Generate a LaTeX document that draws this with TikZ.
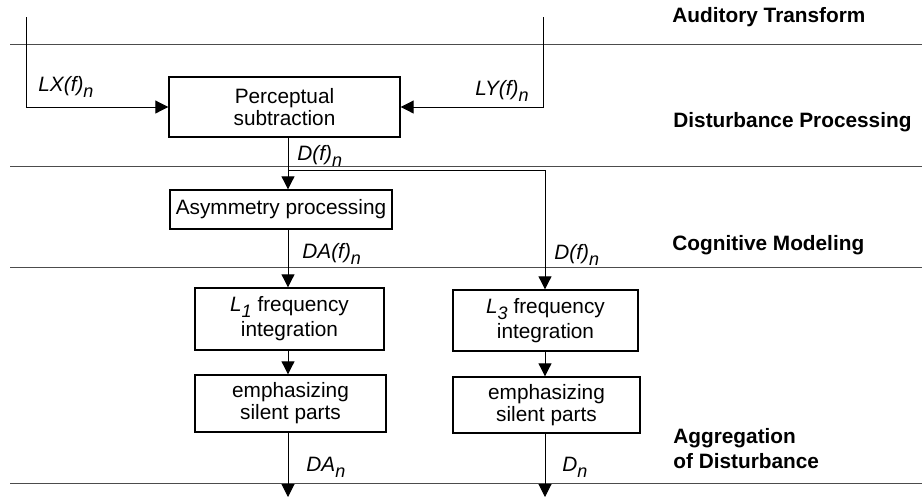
\documentclass[tikz,border=0pt]{standalone}
\usepackage{fontspec}
\setmainfont{Liberation Sans}
\usetikzlibrary{arrows.meta}
\newcommand\myfs{\fontsize{10.4}{11}\selectfont}
\newcommand\mysub[1]{\raisebox{-3pt}{\fontsize{9}{9}\selectfont\itshape #1}}
\begin{document}
\begin{tikzpicture}[x=0.5pt,y=-0.5pt,
  box/.style={draw, line width=0.7pt, inner sep=0pt, align=center, font=\myfs},
  arr/.style={line width=0.5pt, -{Triangle[length=6.5pt,width=6.5pt]}},
  sep/.style={line width=0.5pt, draw=black!70},
  lbl/.style={anchor=base west, inner sep=0pt, font=\myfs\itshape},
  layer/.style={anchor=base west, inner sep=0pt, font=\myfs\bfseries, align=left}]
\useasboundingbox (0,0) rectangle (922,500);
% layer separators
\draw[sep] (10,44) -- (922,44);
\draw[sep] (10,166) -- (922,166);
\draw[sep] (10,267) -- (922,267);
\draw[sep] (10,483) -- (922,483);
% boxes
\node[box, minimum width=115.5pt, minimum height=30pt] (ps) at (284.5,107) {Perceptual\\subtraction};
\node[box, minimum width=111pt, minimum height=19.5pt] (asym) at (281,209.5) {Asymmetry processing};
\node[box, minimum width=94.5pt, minimum height=31pt] (l1) at (289.5,319) {\textit{L}\mysub{1} frequency\\[1.5pt]integration};
\node[box, minimum width=92.5pt, minimum height=30.5pt] (l3) at (545.5,320.5) {\textit{L}\mysub{3} frequency\\[1.5pt]integration};
\node[box, minimum width=95.5pt, minimum height=28.5pt] (e1) at (290.5,403.5) {emphasizing\\silent parts};
\node[box, minimum width=93.5pt, minimum height=28pt] (e3) at (546.5,405) {emphasizing\\silent parts};
% connectors
\coordinate (lxs) at (26,17);
\coordinate (lys) at (543,17);
\coordinate (c1) at (288,0);
\coordinate (c3) at (545,0);
\coordinate (br) at (288,170);
\coordinate (o1) at (288,497);
\coordinate (o3) at (545,497);
\draw[arr] (lxs) |- (ps.west);
\draw[arr] (lys) |- (ps.east);
\draw[arr] (ps.south -| c1) -- (asym.north -| c1);
\draw[arr] (br) -| (l3.north -| c3);
\draw[arr] (asym.south -| c1) -- (l1.north -| c1);
\draw[arr] (l1.south -| c1) -- (e1.north -| c1);
\draw[arr] (l3.south -| c3) -- (e3.north -| c3);
\draw[arr] (e1.south -| c1) -- (o1);
\draw[arr] (e3.south -| c3) -- (o3);
% signal labels
\node[lbl] (tlx) at (38,91) {LX(f)\mysub{n}};
\node[lbl] (tly) at (475,95) {LY(f)\mysub{n}};
\node[lbl] (td1) at (297,160) {D(f)\mysub{n}};
\node[lbl] (tda) at (302,258) {DA(f)\mysub{n}};
\node[lbl] (td3) at (554,259) {D(f)\mysub{n}};
\node[lbl] (tdan) at (306,471) {DA\mysub{n}};
\node[lbl] (tdn) at (562,471) {D\mysub{n}};
% layer labels
\node[layer] (la1) at (672,22) {Auditory Transform};
\node[layer] (la2) at (673,127) {Disturbance Processing};
\node[layer] (la3) at (672,250) {Cognitive Modeling};
\node[layer] (la4) at (673,443) {Aggregation};
\node[layer] (la5) at (673,468) {of Disturbance};
\end{tikzpicture}
\end{document}
